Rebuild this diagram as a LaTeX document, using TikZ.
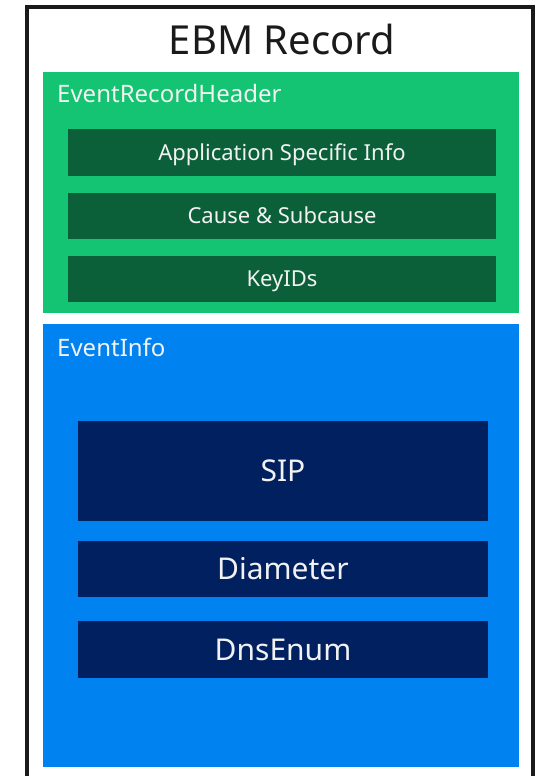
\documentclass[tikz,border=0pt]{standalone}
\usepackage{fontspec}
\setmainfont{Noto Sans}
\usetikzlibrary{positioning}

\definecolor{hdrgreen}{RGB}{20,196,114}
\definecolor{fieldgreen}{RGB}{11,96,58}
\definecolor{infoblue}{RGB}{0,130,240}
\definecolor{fieldnavy}{RGB}{0,32,96}
\definecolor{frame}{RGB}{26,26,26}

\tikzset{
  area/.style={rectangle, outer sep=0pt, inner sep=0pt, minimum width=476pt},
  arealabel/.style={anchor=base west, inner sep=0pt, text=white!95!black, font=\fontsize{24}{28}\selectfont},
  field/.style={rectangle, outer sep=0pt, inner sep=0pt, text=white!95!black, text depth=0pt},
  hdrfield/.style={field, fill=fieldgreen, minimum width=428pt, minimum height=46pt,
    font=\fontsize{22}{26}\selectfont, text height=15.6pt},
  infofield/.style={field, fill=fieldnavy, minimum width=410pt,
    font=\fontsize{30}{34}\selectfont, text height=21.3pt}
}

\begin{document}
\begin{tikzpicture}[x=1pt, y=-1pt]
  \useasboundingbox (0,0) rectangle (541,776);

  % outer record frame (open at the bottom)
  \draw[frame, line width=4pt] (27,776) -- (27,7) -- (533,7) -- (533,776);
  \node[anchor=base, inner sep=0pt, text=frame, font=\fontsize{40}{46}\selectfont] (title) at (282,55) {EBM Record};

  % header part
  \node[area, fill=hdrgreen, minimum height=241pt] (header) at (281,192.5) {};
  \node[arealabel] (headerlbl) at (57,102) {EventRecordHeader};
  \node[hdrfield, minimum height=47pt] (appinfo) at (282,152.5) {Application Specific Info};
  \node[hdrfield, below=17pt of appinfo] (cause) {Cause \& Subcause};
  \node[hdrfield, below=17pt of cause] (keyids) {KeyIDs};

  % info part
  \node[area, fill=infoblue, minimum height=443pt] (info) at (281,545.5) {};
  \node[arealabel] (infolbl) at (57,356) {EventInfo};
  \node[infofield, minimum height=100pt] (sip) at (283,471) {SIP};
  \node[infofield, minimum height=56pt, below=20pt of sip] (diameter) {Diameter};
  \node[infofield, minimum height=57pt, below=24pt of diameter] (dnsenum) {DnsEnum};
\end{tikzpicture}
\end{document}
